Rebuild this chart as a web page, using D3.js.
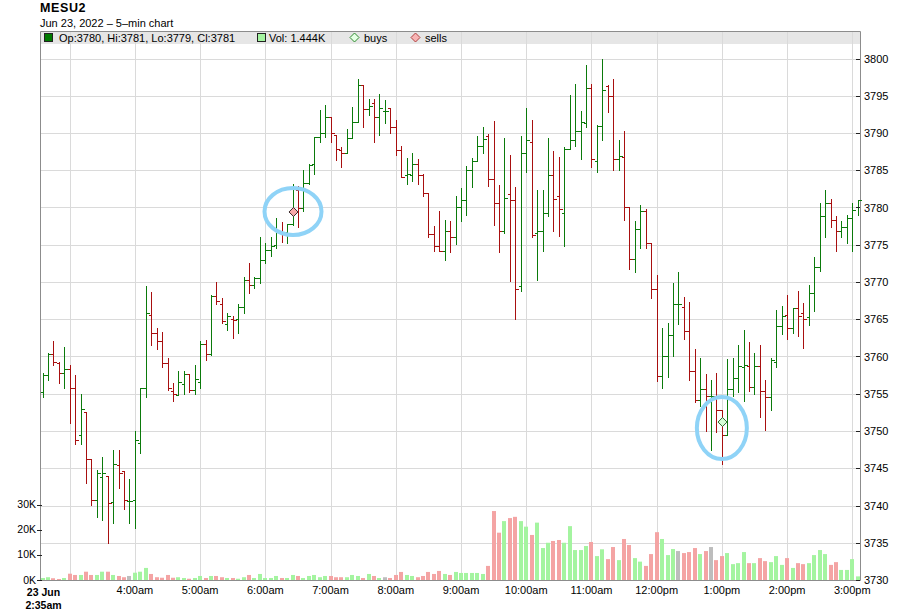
<!DOCTYPE html>
<html>
<head>
<meta charset="utf-8">
<script src="https://cdn.jsdelivr.net/npm/d3@7"></script>
<style>
  html, body { margin: 0; padding: 0; background: #fff; }
  svg { display: block; font-family: "Liberation Sans", Arial, sans-serif; }
</style>
</head>
<body>
<svg id="chart" width="900" height="616"></svg>
<script>
const symbol = "MESU2";
const subtitle = "Jun 23, 2022 \u2013 5\u2013min chart";
const startTime = new Date(2022, 5, 23, 2, 35);
const barMinutes = 5;

// OHLC per 5-min bar, 2:35am .. 3:05pm
const opens = [
  3755.2,3757.5,3760.4,3759.1,3757.8,3758.3,3755.8,3749.4,3752.6,3746.3,
  3740.8,3743.8,3744,3740.5,3745.5,3744.6,3740.6,3740.8,3748.4,3755.8,
  3765.6,3763.1,3762.1,3759.1,3755.4,3754.8,3756.3,3757.6,3755.5,3756.6,
  3761.7,3760.4,3768.1,3767.1,3764.3,3765,3765,3766.6,3770.3,3769.6,
  3770.5,3772.9,3774.3,3775,3776.9,3776.7,3777.8,3782.3,3779.9,3783.3,
  3785.8,3789.5,3790,3792.2,3789.7,3787.7,3787.3,3789.3,3791.5,3796.4,
  3793.2,3794,3792.2,3793,3793.3,3790.8,3787.7,3784.3,3784.3,3785.9,
  3784.4,3781.9,3776.5,3774.8,3774.2,3776.8,3776,3780,3781,3785,
  3786.2,3788.3,3789.6,3783.8,3780.6,3776.9,3781.8,3781,3769.5,3787.3,
  3788.8,3776.6,3776.8,3779.2,3784.3,3781.5,3779.2,3787.8,3789.1,3790.3,
  3791.4,3796,3786.3,3790.9,3796.3,3794.9,3786.5,3786.8,3780.1,3773.1,
  3777.1,3779.5,3775.2,3769.1,3757.4,3760,3762.9,3767.1,3766.7,3763.4,
  3758.1,3754.2,3755.6,3754.7,3754.7,3752.8,3749.5,3755.6,3757.1,3758.6,
  3758.7,3755.9,3758.7,3755.4,3754.5,3759.3,3764.1,3765.6,3763.8,3766.5,
  3765.8,3765.3,3768.5,3772,3778.9,3780.6,3778.3,3776.9,3777.4,3778.6,
  3780
];
const highs = [
  3757.8,3760.5,3762.1,3759.3,3761.3,3758.8,3757.5,3754.9,3752.6,3746.3,
  3744.8,3746.5,3744,3747.4,3747.5,3744.6,3743.6,3750,3755.8,3769.4,
  3768.6,3763.8,3763.3,3759.8,3756.4,3758.1,3758.1,3757.6,3758.8,3762.1,
  3762.2,3768.3,3770,3767.9,3765.9,3765.4,3767,3770.7,3772.5,3770.7,
  3776,3775.3,3776,3778.6,3778.1,3777.8,3783.2,3782.9,3785,3785.9,
  3789.5,3793.1,3793.7,3792.2,3789.7,3788.1,3790.6,3793.5,3797.2,3796.4,
  3794.6,3794.6,3795.3,3794.4,3793.3,3791.7,3788.2,3786.7,3787.3,3786.5,
  3784.5,3782,3777.5,3779.5,3778.3,3778.2,3781.6,3782.6,3785.6,3786.6,
  3789.6,3790.8,3789.9,3791.6,3783,3789.3,3787,3782.7,3789.6,3793.3,
  3791.7,3782.4,3782.4,3789.3,3787.6,3786.8,3788.1,3795.1,3796.6,3792.9,
  3799.1,3796.6,3791.1,3799.9,3796.4,3797.3,3789.1,3790.3,3780.1,3778.2,
  3780.4,3779.8,3775.2,3771,3763.8,3764.5,3769.8,3771.4,3768,3767.3,
  3761,3759.8,3757.6,3756.8,3757.8,3752.8,3759.7,3759.8,3761.6,3763.6,
  3761.9,3760.5,3761.5,3756.9,3759.8,3766.2,3766.8,3768.2,3766.5,3768.8,
  3767.2,3769.6,3773.3,3780.6,3782.4,3781.2,3778.9,3778.2,3779,3780.6,
  3781
];
const lows = [
  3754.6,3756.9,3758.9,3756.5,3755.8,3751.1,3748.3,3748.3,3743,3740.1,
  3738.5,3738,3735,3737.7,3742.4,3739.5,3737.7,3737,3747.1,3754.6,
  3761.5,3761,3758.6,3755.5,3754,3754.8,3755,3755.2,3755,3755.8,
  3759.5,3760.2,3767,3764.5,3763.5,3762.5,3763.2,3765.9,3768.5,3769.2,
  3769.9,3772.5,3773.5,3774.5,3775.4,3775.2,3777.6,3777.4,3779.5,3783.2,
  3784.5,3788.8,3789.5,3788.8,3786.4,3785.5,3787.3,3789.3,3791.5,3790.8,
  3792.4,3788.8,3789.7,3791.3,3790,3787,3784.1,3783.2,3783.5,3783.2,
  3781.5,3776,3774.2,3774.1,3773,3774,3775.1,3778.2,3779,3782.7,
  3786.2,3787.3,3782.9,3777.7,3774,3776.6,3770.2,3765,3768.8,3784.7,
  3776,3770.3,3774.2,3778.9,3776.8,3776.2,3774.8,3787.8,3788.2,3786.5,
  3790.8,3785.5,3784.7,3789,3792.8,3785,3785,3778.3,3771.7,3771.4,
  3774.5,3774.5,3767.9,3756.7,3755.8,3757.3,3760,3764.3,3762.3,3756.8,
  3753.9,3753.3,3750,3747.4,3749.8,3745.6,3749.4,3754.7,3755.3,3754,
  3755.4,3754.9,3751.9,3750.2,3752.8,3758.6,3763,3762.4,3763.1,3762.8,
  3761.2,3764.2,3766.1,3771.5,3776,3777.4,3774.2,3776,3775.3,3774.2,
  3779
];
const closes = [
  3757.5,3760.4,3759.3,3757.8,3758.3,3755.8,3748.8,3752.9,3746.3,3740.8,
  3744.3,3744.3,3740.4,3745.6,3744.3,3740.8,3740.6,3748.8,3755.8,3765.8,
  3763.1,3762.1,3759.1,3755.8,3755,3756.6,3757.6,3755.5,3757,3761.7,
  3760.4,3768.1,3767.4,3764.7,3765.4,3764.9,3766.6,3770.3,3769.6,3770.5,
  3772.9,3774.3,3774.8,3776.9,3776.7,3777.8,3779.4,3779.9,3783.3,3785.7,
  3789.5,3790,3792.2,3790,3787.9,3787.3,3789.3,3791.5,3796.4,3793.2,
  3793.6,3792.2,3793.3,3793,3790.8,3787.7,3784.1,3784.5,3785.8,3784.4,
  3782,3776.5,3774.8,3774.2,3776.8,3776,3780,3781,3785,3786.2,
  3788.3,3789.2,3783.8,3780.6,3776.9,3781.3,3781,3769,3787.3,3789.1,
  3776.3,3776.8,3779.2,3784.3,3781.2,3779.8,3787.8,3789.1,3790.3,3791.5,
  3796,3786.5,3790.9,3795.8,3794.9,3786.5,3786.9,3780.1,3773.1,3777.1,
  3779.5,3775.2,3769.1,3757.4,3760.1,3762.9,3767.1,3767.1,3763.4,3758.1,
  3754.2,3755.6,3754.7,3754.7,3752.8,3749.5,3755.6,3757.1,3758.7,3758.8,
  3755.9,3758.7,3755.4,3754.5,3759.5,3764.1,3765.4,3763.8,3766.5,3765.4,
  3765,3768.5,3772,3778.9,3780.6,3778.3,3776.9,3777.4,3778.6,3779.7,
  3781
];
// volume in thousands of contracts
const volumes = [
  0.8,1.1,0.7,0.4,0.8,2.5,2.0,2.0,3.3,2.0,
  2.0,3.3,3.3,2.0,1.6,1.1,1.6,2.9,3.3,4.8,
  2.4,1.1,0.9,2.0,0.9,1.1,0.8,0.5,0.8,1.6,
  0.8,1.6,1.6,1.1,0.8,0.8,0.5,1.1,2.0,0.8,
  2.4,0.8,0.8,1.6,0.8,0.8,2.0,1.6,0.8,1.6,
  2.0,1.1,1.6,1.6,1.1,1.1,1.1,2.0,1.6,0.8,
  2.4,1.6,0.8,1.1,0.8,2.0,3.2,2.0,1.6,1.1,
  1.6,3.2,2.4,3.6,2.4,2.0,3.2,2.8,2.8,2.8,
  2.8,2.4,5.6,27.4,18.8,23.4,24.6,25.1,23.4,21.2,
  17.9,22.8,12.7,14.8,15.5,15.9,14.8,21.4,11.9,11.9,
  13.5,15.1,9.5,12.2,8.3,13.1,7.9,16.3,13.9,8.7,
  7.3,5.6,10.3,19.0,16.3,9.9,12.3,11.5,10.7,11.1,
  12.7,10.3,11.5,13.1,7.9,9.5,10.7,6.3,6.7,11.1,
  6.7,6.7,8.7,7.5,7.1,9.5,6.0,8.7,4.8,6.7,
  6.3,6.7,9.9,11.9,10.3,6.0,7.1,4.0,4.0,8.3,
  1.444
];

// trades: bar index and fill price
const tradeSide = ["sell", "buy"];
const tradeBar = [46, 125];
const tradePrice = [3779.4, 3751.2];

const priceTicks = d3.range(3730, 3801, 5);
const volumeTicks = [0, 10, 20, 30];

const UP = "#0b7a0b", DOWN = "#a80f0f";
const VOL_UP = "#a4f4a0", VOL_DOWN = "#f4a4a4", VOL_FLAT = "#bdbdbd";
const GRID = "#dadada", FRAME = "#8c8c8c";

const box = { left: 40, right: 860, top: 31, bottom: 580 };

const times = opens.map((_, i) => d3.timeMinute.offset(startTime, i * barMinutes));
const bars = opens.map((o, i) => ({
  t: times[i], o, h: highs[i], l: lows[i], c: closes[i], v: volumes[i]
}));

const x = d3.scaleTime()
  .domain([startTime, new Date(2022, 5, 23, 15, 0)])
  .range([42.5, 852.3]);
const y = d3.scaleLinear().domain([3730, 3800]).range([580, 58.5]);
const yVol = d3.scaleLinear().domain([0, 30]).range([580, 504.5]);

const px = (v) => Math.round(v) + 0.5;
const dir = (d) => (d.c > d.o ? 1 : d.c < d.o ? -1 : 0);

const svg = d3.select("#chart");

// header
svg.append("text").attr("x", 40).attr("y", 12)
  .attr("font-size", 12.5).attr("font-weight", "bold").attr("letter-spacing", 0.6)
  .text(symbol);
svg.append("text").attr("x", 40).attr("y", 26.5)
  .attr("font-size", 11).text(subtitle);

// legend strip
svg.append("rect")
  .attr("x", box.left).attr("y", box.top)
  .attr("width", box.right - box.left).attr("height", 13)
  .attr("fill", "#e6e6e6");

// grid
const hours = d3.timeHour.range(new Date(2022, 5, 23, 3, 0), new Date(2022, 5, 23, 15, 1));
svg.append("g").selectAll("line").data(hours).join("line")
  .attr("x1", (d) => px(x(d))).attr("x2", (d) => px(x(d)))
  .attr("y1", box.top).attr("y2", box.bottom)
  .attr("stroke", GRID);
svg.append("g").selectAll("line").data(priceTicks).join("line")
  .attr("x1", box.left).attr("x2", box.right)
  .attr("y1", (d) => px(y(d))).attr("y2", (d) => px(y(d)))
  .attr("stroke", GRID);

// legend content
const lg = svg.append("g").attr("font-size", 11);
lg.append("rect").attr("x", 44.5).attr("y", 33.5).attr("width", 8).attr("height", 8)
  .attr("fill", "#007a00").attr("stroke", "#222");
const last = bars[bars.length - 1];
lg.append("text").attr("x", 59).attr("y", 42)
  .text(`Op:${last.o}, Hi:${last.h}, Lo:${last.l}, Cl:${last.c}`);
lg.append("rect").attr("x", 257.5).attr("y", 33.5).attr("width", 8).attr("height", 8)
  .attr("fill", VOL_UP).attr("stroke", "#222");
lg.append("text").attr("x", 269).attr("y", 42).text(`Vol: ${last.v}K`);

function diamond(cx, cy, r) {
  return `M${cx},${cy - r}L${cx + r},${cy}L${cx},${cy + r}L${cx - r},${cy}Z`;
}
lg.append("path").attr("d", diamond(354.5, 37.5, 4.5))
  .attr("fill", "#e4ffe4").attr("stroke", "#2e8b2e");
lg.append("text").attr("x", 364).attr("y", 42).text("buys");
lg.append("path").attr("d", diamond(415.5, 37.5, 4.5))
  .attr("fill", "#f7b4b4").attr("stroke", "#b04040");
lg.append("text").attr("x", 425).attr("y", 42).text("sells");

// volume bars
svg.append("g").selectAll("rect").data(bars).join("rect")
  .attr("x", (d) => Math.round(x(d.t)) - 2)
  .attr("y", (d) => yVol(d.v))
  .attr("width", 4)
  .attr("height", (d) => yVol(0) - yVol(d.v))
  .attr("fill", (d) => (dir(d) > 0 ? VOL_UP : dir(d) < 0 ? VOL_DOWN : VOL_FLAT));

// frame
svg.append("path")
  .attr("d", `M${box.left + 0.5},${box.bottom + 0.5}V${box.top + 0.5}H${box.right + 0.5}V${box.bottom + 0.5}Z`)
  .attr("fill", "none").attr("stroke", FRAME);

// OHLC bars
const ohlc = svg.append("g").attr("shape-rendering", "crispEdges");
const barG = ohlc.selectAll("g").data(bars).join("g")
  .attr("stroke", (d) => (dir(d) >= 0 ? UP : DOWN));
barG.append("line")
  .attr("x1", (d) => px(x(d.t))).attr("x2", (d) => px(x(d.t)))
  .attr("y1", (d) => Math.round(y(d.h))).attr("y2", (d) => Math.round(y(d.l)) + 1);
barG.append("line")
  .attr("x1", (d) => px(x(d.t)) - 3).attr("x2", (d) => px(x(d.t)))
  .attr("y1", (d) => px(y(d.o))).attr("y2", (d) => px(y(d.o)));
barG.append("line")
  .attr("x1", (d) => px(x(d.t))).attr("x2", (d) => px(x(d.t)) + 3)
  .attr("y1", (d) => px(y(d.c))).attr("y2", (d) => px(y(d.c)));

// trade markers and highlight rings
const trades = tradeSide.map((s, i) => ({ side: s, t: times[tradeBar[i]], p: tradePrice[i] }));
const rings = { sell: { dx: 0.5, dy: -0.5, rx: 28.5, ry: 23.5 }, buy: { dx: 0, dy: 6, rx: 25, ry: 31 } };
svg.append("g").selectAll("path").data(trades).join("path")
  .attr("d", (d) => diamond(px(x(d.t)), y(d.p), 4.5))
  .attr("fill", (d) => (d.side === "buy" ? "#d6ffd6" : "#f7a8a8"))
  .attr("stroke", (d) => (d.side === "buy" ? "#2f6a2f" : "#3a2a2a"));
svg.append("g").selectAll("ellipse").data(trades).join("ellipse")
  .attr("cx", (d) => x(d.t) + rings[d.side].dx)
  .attr("cy", (d) => y(d.p) + rings[d.side].dy)
  .attr("rx", (d) => rings[d.side].rx)
  .attr("ry", (d) => rings[d.side].ry)
  .attr("fill", "none").attr("stroke", "#8fd3f7").attr("stroke-width", 4);

// right price axis
const ra = svg.append("g").attr("font-size", 11);
ra.selectAll("line").data(priceTicks).join("line")
  .attr("x1", box.right - 4).attr("x2", box.right)
  .attr("y1", (d) => px(y(d))).attr("y2", (d) => px(y(d)))
  .attr("stroke", "#222");
ra.selectAll("text").data(priceTicks).join("text")
  .attr("x", box.right + 4).attr("y", (d) => y(d) + 4)
  .text((d) => d);

// left volume axis
const la = svg.append("g").attr("font-size", 10.5);
la.selectAll("line").data(volumeTicks).join("line")
  .attr("x1", box.left - 3).attr("x2", box.left + 2)
  .attr("y1", (d) => px(yVol(d))).attr("y2", (d) => px(yVol(d)))
  .attr("stroke", "#222");
la.selectAll("text").data(volumeTicks).join("text")
  .attr("x", box.left - 4).attr("y", (d) => yVol(d) + 3.5)
  .attr("text-anchor", "end")
  .text((d) => d + "K");

// time axis
const fmt = (d) => d3.timeFormat("%-I:%M%p")(d).toLowerCase();
const ba = svg.append("g").attr("font-size", 11).attr("text-anchor", "middle");
ba.selectAll("text").data(hours.slice(1)).join("text")
  .attr("x", (d) => x(d)).attr("y", 594)
  .text(fmt);
const first = ba.append("text").attr("font-weight", "bold").attr("font-size", 10.5);
first.append("tspan").attr("x", x(startTime) + 1).attr("y", 596).text(d3.timeFormat("%-d %b")(startTime));
first.append("tspan").attr("x", x(startTime) + 1).attr("y", 608.5).text(fmt(startTime));
</script>
</body>
</html>
